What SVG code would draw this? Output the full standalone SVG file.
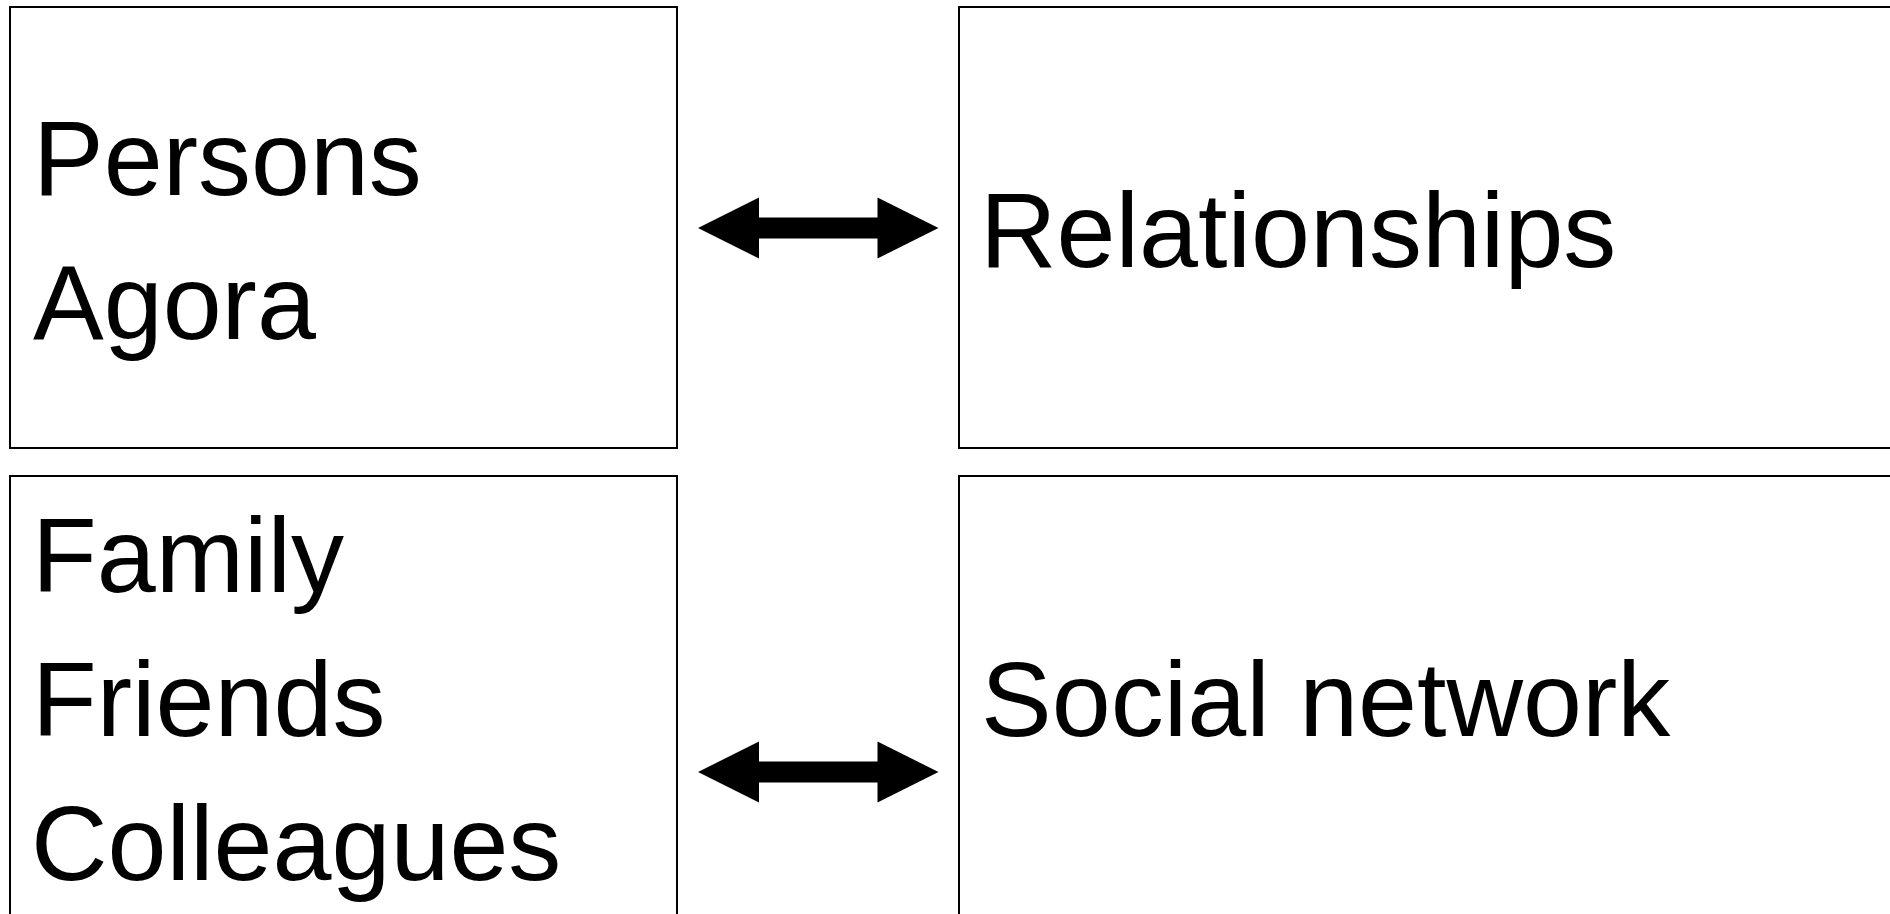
<svg xmlns="http://www.w3.org/2000/svg" width="1890" height="914" viewBox="0 0 1890 914">
<style>
.box{fill:#fff;stroke:#000;stroke-width:2}
.t{font-family:"Liberation Sans",Arial,sans-serif;font-size:106px;fill:#000}
.arr{fill:#000;stroke:none}
</style>
<rect width="1890" height="914" fill="#fff"/>
<g id="node-persons">
<rect class="box" x="10" y="7" width="667" height="441"/>
<text class="t" x="33" y="195">Persons</text>
<text class="t" x="33" y="339">Agora</text>
</g>
<g id="node-relationships">
<rect class="box" x="959" y="7" width="960" height="441"/>
<text class="t" x="980" y="266.5">Relationships</text>
</g>
<g id="node-family">
<rect class="box" x="10" y="476" width="667" height="460"/>
<text class="t" x="32" y="592">Family</text>
<text class="t" x="32" y="736">Friends</text>
<text class="t" x="31" y="880">Colleagues</text>
</g>
<g id="node-social">
<rect class="box" x="959" y="476" width="960" height="460"/>
<text class="t" x="981" y="736">Social network</text>
</g>
<g id="connectors">
<polygon class="arr" points="698,228 759,197.5 759,217.5 877.5,217.5 877.5,197.5 938.5,228 877.5,258.5 877.5,238.5 759,238.5 759,258.5"/>
<polygon class="arr" points="698,772 759,741.5 759,761.5 877.5,761.5 877.5,741.5 938.5,772 877.5,802.5 877.5,782.5 759,782.5 759,802.5"/>
</g>
</svg>
